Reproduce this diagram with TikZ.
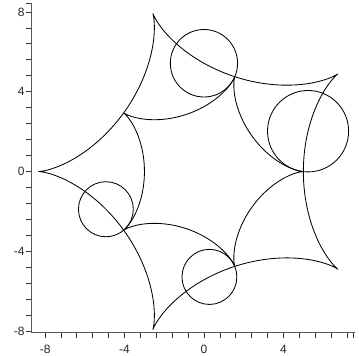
\documentclass[tikz,border=0pt]{standalone}
\usepackage{fontspec}
\setmainfont{Liberation Sans}
\begin{document}
\begin{tikzpicture}[x=0.5cm,y=0.502cm,
  curve/.style={line width=0.6pt,black},
  axisline/.style={line width=0.7pt,black!65},
  tickmark/.style={line width=0.6pt,black!80},
  ticklabel/.style={font=\fontsize{8.6}{10}\selectfont,text=black!85,inner sep=0pt}]
\useasboundingbox (-10.27,-9.20) rectangle (7.80,8.60);
% axes
\coordinate (origin) at (-8.70,-8.07);
\coordinate (xend) at (7.60,-8.07);
\coordinate (yend) at (-8.70,8.47);
\draw[axisline] (origin) -- (xend);
\draw[axisline] (origin) -- (yend);
\foreach \i in {0,...,19} \draw[tickmark] ({-8+0.8*\i},-8.07) -- ++(0,-0.28);
\draw[tickmark] (7.53,-8.07) -- ++(0,-0.28);
\foreach \i in {0,...,20} \draw[tickmark] (-8.70,{-8+0.8*\i}) -- ++(-0.25,0);
\draw[tickmark] (-8.70,8.45) -- ++(-0.25,0);
\foreach \v/\n in {-8/xa,-4/xb,0/xc,4/xd} \node[ticklabel] (\n) at (\v,-8.90) {\v};
\foreach \v/\n in {-8/ya,-4/yb,0/yc,4/yd,8/ye} \node[ticklabel,anchor=east] (\n) at (-9.02,\v) {\v};
% inner hypocycloid (R=5, r=1)
\draw[curve] plot[domain=0:360,samples=721,variable=\t] ({4*cos(\t)+cos(4*\t)},{4*sin(\t)-sin(4*\t)});
% its evolute
\draw[curve] plot[domain=0:360,samples=721,variable=\t] ({20/3*cos(\t)-5/3*cos(4*\t)},{20/3*sin(\t)+5/3*sin(4*\t)});
% osculating circles
\foreach \t in {9,79.4,210,282}
  \draw[curve] ({20/3*cos(\t)-5/3*cos(4*\t)},{20/3*sin(\t)+5/3*sin(4*\t)}) circle [radius={16/3*abs(sin(2.5*\t))}];
\end{tikzpicture}
\end{document}
